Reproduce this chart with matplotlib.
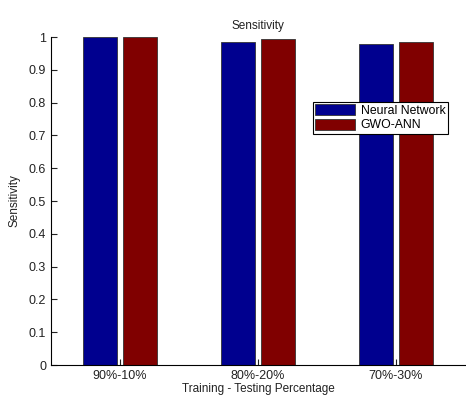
import matplotlib
matplotlib.use("Agg")
import matplotlib.pyplot as plt
import numpy as np

categories = ["90%-10%", "80%-20%", "70%-30%"]
neural_network = [1.0, 0.986, 0.978]
gwo_ann = [1.0, 0.994, 0.986]
yticks = [0, 0.1, 0.2, 0.3, 0.4, 0.5, 0.6, 0.7, 0.8, 0.9, 1]
ytick_labels = ["0", "0.1", "0.2", "0.3", "0.4", "0.5", "0.6", "0.7", "0.8", "0.9", "1"]

plt.rcParams['font.family'] = ['Liberation Sans', 'DejaVu Sans']

fig = plt.figure(figsize=(4.66, 3.99), dpi=100)
ax = fig.add_axes([51/466, 1 - 365/399, 414/466, 328/399])

x = np.arange(1, len(categories) + 1)
w = 0.24
off = 0.145
ax.bar(x - off, neural_network, w, color="#00008F", edgecolor="#333333", linewidth=0.6, label="Neural Network")
ax.bar(x + off, gwo_ann, w, color="#800000", edgecolor="#333333", linewidth=0.6, label="GWO-ANN")

ax.set_xlim(0.5, 3.5)
ax.set_ylim(0, 1)
ax.set_xticks(x)
ax.set_xticklabels(categories, fontsize=9)
ax.set_yticks(yticks)
ax.set_yticklabels(ytick_labels, fontsize=9)
ax.tick_params(direction='in', length=4, width=0.8, colors='#222222')
ax.spines['top'].set_visible(False)
ax.spines['right'].set_visible(False)
ax.set_title("Sensitivity", fontsize=8.5, pad=6, color='#222222')
ax.set_xlabel("Training - Testing Percentage", fontsize=8.5, labelpad=1, color='#222222')
ax.set_ylabel("Sensitivity", fontsize=8.5, labelpad=6, color='#222222')

leg = ax.legend(loc='upper left', bbox_to_anchor=((313-51)/414, 1 - (102-37)/328),
                fontsize=8.8, frameon=True, fancybox=False, framealpha=1,
                handlelength=3.2, handleheight=1.0,
                borderpad=0.2, labelspacing=0.12, handletextpad=0.5, borderaxespad=0)
leg.get_frame().set_edgecolor('black')
leg.get_frame().set_linewidth(0.8)

fig.savefig("out.png", dpi=100)
